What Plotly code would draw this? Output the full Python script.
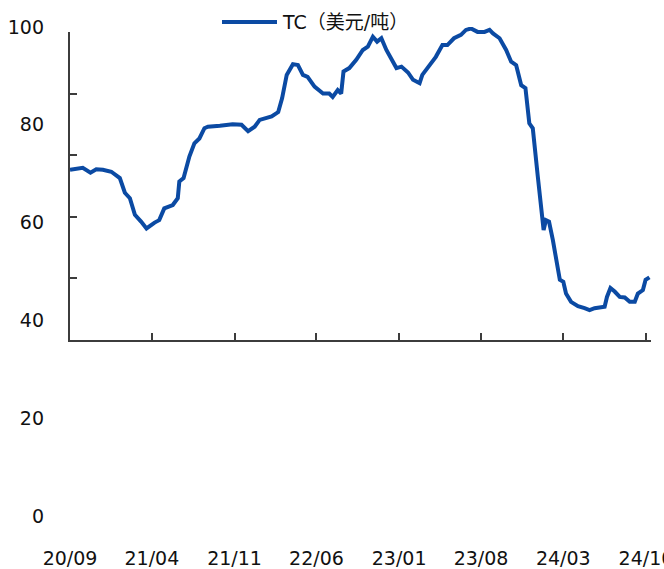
import plotly.graph_objects as go

# Weekly-ish TC quotes (USD/t)
dates = [
    "2020-09-01", "2020-10-04", "2020-10-24", "2020-11-08", "2020-11-25", "2020-12-17",
    "2021-01-08", "2021-01-21", "2021-02-03", "2021-02-16", "2021-03-04", "2021-03-18",
    "2021-04-08", "2021-04-20", "2021-05-03", "2021-05-25", "2021-06-07", "2021-06-11",
    "2021-06-22", "2021-07-07", "2021-07-20", "2021-08-02", "2021-08-15", "2021-08-24",
    "2021-09-24", "2021-10-27", "2021-11-19", "2021-12-06", "2021-12-23", "2022-01-05",
    "2022-02-05", "2022-02-22", "2022-03-04", "2022-03-16", "2022-04-01", "2022-04-14",
    "2022-04-27", "2022-05-09", "2022-05-27", "2022-06-18", "2022-07-04", "2022-07-13",
    "2022-07-26", "2022-08-04", "2022-08-10", "2022-08-25", "2022-09-12", "2022-09-29",
    "2022-10-12", "2022-10-25", "2022-11-05", "2022-11-16", "2022-11-29", "2022-12-12",
    "2022-12-25", "2023-01-07", "2023-01-24", "2023-02-06", "2023-02-23", "2023-03-02",
    "2023-03-19", "2023-04-06", "2023-04-23", "2023-05-06", "2023-05-23", "2023-06-10",
    "2023-06-23", "2023-07-06", "2023-07-23", "2023-08-10", "2023-08-23", "2023-09-01",
    "2023-09-18", "2023-10-05", "2023-10-18", "2023-10-31", "2023-11-13", "2023-11-24",
    "2023-12-04", "2023-12-13", "2023-12-26", "2024-01-04", "2024-01-10", "2024-01-16",
    "2024-01-24", "2024-02-03", "2024-02-14", "2024-02-21", "2024-03-01", "2024-03-08",
    "2024-03-21", "2024-04-08", "2024-04-25", "2024-05-08", "2024-05-21", "2024-06-16",
    "2024-06-22", "2024-07-01", "2024-07-12", "2024-07-25", "2024-08-07", "2024-08-20",
    "2024-09-02", "2024-09-10", "2024-09-23", "2024-09-30", "2024-10-10",
]
tc = [
    70.8, 71.2, 70.2, 70.9, 70.8, 70.4,
    69.1, 66.1, 65.0, 61.6, 60.2, 58.8,
    60.0, 60.5, 62.9, 63.6, 65.0, 68.4,
    69.1, 73.5, 76.2, 77.2, 79.3, 79.6,
    79.8, 80.1, 80.0, 78.7, 79.6, 81.0,
    81.7, 82.6, 85.4, 90.2, 92.4, 92.2,
    90.2, 89.8, 87.8, 86.4, 86.4, 85.7,
    87.1, 86.4, 90.9, 91.6, 93.3, 95.3,
    96.0, 98.0, 97.0, 97.7, 95.3, 93.6,
    91.6, 91.9, 90.7, 89.2, 88.5, 90.2,
    91.9, 93.9, 96.3, 96.3, 97.7, 98.4,
    99.4, 99.7, 99.0, 99.0, 99.4, 98.7,
    97.7, 95.3, 92.9, 92.2, 88.1, 87.5,
    80.3, 79.3, 69.4, 62.2, 58.5, 60.5,
    60.2, 56.4, 52.0, 48.3, 47.9, 45.5,
    43.8, 42.9, 42.5, 42.1, 42.5, 42.8,
    44.8, 46.6, 45.9, 44.8, 44.7, 43.8,
    43.8, 45.5, 46.2, 48.3, 48.8,
]

x_tick_vals = ["2020-09-01", "2021-04-01", "2021-11-01", "2022-06-01",
               "2023-01-01", "2023-08-01", "2024-03-01", "2024-10-01"]
x_tick_text = ["20/09", "21/04", "21/11", "22/06", "23/01", "23/08", "24/03", "24/10"]
y_tick_vals = [0, 20, 40, 60, 80, 100]
series_name = "TC（美元/吨）"

# Page geometry (pixels)
W, H = 664, 569
L, R, T, B = 70, 13, 27, 24
plot_w = W - L - R
plot_h = H - T - B
px_per_unit = 4.89          # vertical scale of the value axis
y_low = 100 - plot_h / px_per_unit


def paper_x(px):
    return (px - L) / plot_w


def paper_y(py):
    return (H - B - py) / plot_h


LINE_BLUE = "#0B4AA3"
AXIS_GREY = "#3c3c3c"
FONT = "DejaVu Sans, Noto Sans CJK SC, sans-serif"

fig = go.Figure()
fig.add_trace(go.Scatter(
    x=dates, y=tc, mode="lines", name=series_name,
    line=dict(color=LINE_BLUE, width=4),
    xaxis="x", yaxis="y", showlegend=False,
))
# empty trace so the framing axes get their own subplot
fig.add_trace(go.Scatter(x=[], y=[], xaxis="x2", yaxis="y2",
                         showlegend=False, hoverinfo="skip"))

fig.update_layout(
    width=W, height=H,
    margin=dict(l=L, r=R, t=T, b=B, autoexpand=False),
    paper_bgcolor="white", plot_bgcolor="rgba(0,0,0,0)",
    font=dict(family=FONT, size=19, color="#111"),
    xaxis=dict(
        type="date", range=["2020-09-01", "2024-10-14"],
        tickmode="array", tickvals=x_tick_vals, ticktext=x_tick_text,
        showline=False, ticks="", showgrid=False, zeroline=False,
        anchor="y", tickfont=dict(size=19), automargin=False,
        ticklabeloverflow="allow",
    ),
    yaxis=dict(
        range=[y_low, 100], tickmode="array", tickvals=y_tick_vals,
        showline=False, ticks="", showgrid=False, zeroline=False,
        anchor="x", tickfont=dict(size=19), ticklabelstandoff=25,
        automargin=False,
    ),
    xaxis2=dict(
        type="date", matches="x", anchor="y2",
        tickmode="array", tickvals=x_tick_vals, showticklabels=False,
        showline=True, linecolor=AXIS_GREY, linewidth=1.5,
        ticks="inside", ticklen=7, tickcolor=AXIS_GREY, tickwidth=1.5,
        showgrid=False, zeroline=False,
    ),
    yaxis2=dict(
        domain=[paper_y(340), paper_y(32)], anchor="x2",
        range=[0, 5], tickmode="linear", tick0=0, dtick=1,
        showticklabels=False, showline=True, linecolor=AXIS_GREY, linewidth=1.5,
        ticks="inside", ticklen=7, tickcolor=AXIS_GREY, tickwidth=1.5,
        showgrid=False, zeroline=False,
    ),
    shapes=[dict(
        type="line", xref="paper", yref="paper",
        x0=paper_x(222), x1=paper_x(277), y0=paper_y(22), y1=paper_y(22),
        line=dict(color=LINE_BLUE, width=4),
    )],
    annotations=[dict(
        text=series_name, xref="paper", yref="paper",
        x=paper_x(280), y=paper_y(22), xanchor="left", yanchor="middle",
        showarrow=False, font=dict(family=FONT, size=19, color="#111"),
    )],
)

fig.write_html("out.html")
